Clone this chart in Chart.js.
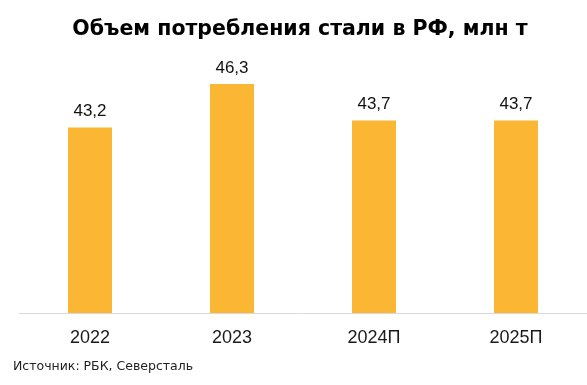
<!DOCTYPE html>
<html>
<head>
<meta charset="utf-8">
<script src="https://cdn.jsdelivr.net/npm/chart.js@4"></script>
<style>
    html, body { margin: 0; padding: 0; background: #fff; }
    #wrap { width: 587px; height: 385px; }
</style>
</head>
<body>
<div id="wrap"><canvas id="steelChart" width="587" height="385"></canvas></div>
<script>
const years = ["2022", "2023", "2024П", "2025П"];
const consumption = [43.2, 46.3, 43.7, 43.7];
const yMin = 30;
const yMax = 48;

const titleText = "Объем потребления стали в РФ, млн т";
const sourceText = "Источник: РБК, Северсталь";

function formatValue(v) {
    return v.toFixed(1).replace(".", ",");
}

// подписи значений над столбцами
const valueLabels = {
    id: "valueLabels",
    afterDatasetsDraw(chart) {
        const ctx = chart.ctx;
        const meta = chart.getDatasetMeta(0);
        ctx.save();
        ctx.font = "17px 'Liberation Sans', Arial, sans-serif";
        ctx.fillStyle = "#111";
        ctx.textAlign = "center";
        ctx.textBaseline = "alphabetic";
        meta.data.forEach((bar, i) => {
            ctx.fillText(formatValue(consumption[i]), bar.x, bar.y - 11);
        });
        ctx.restore();
    }
};

new Chart(document.getElementById("steelChart"), {
    type: "bar",
    data: {
        labels: years,
        datasets: [{
            data: consumption,
            backgroundColor: "#FBB634",
            borderWidth: 0,
            barPercentage: 0.62,
            categoryPercentage: 0.5
        }]
    },
    options: {
        responsive: false,
        animation: false,
        layout: { padding: { left: 13, right: 0, top: 0, bottom: 0 } },
        plugins: {
            legend: { display: false },
            tooltip: { enabled: false },
            title: {
                display: true,
                text: titleText,
                color: "#000",
                font: { family: "'DejaVu Sans', sans-serif", size: 20.5, weight: "bold" },
                padding: { top: 17, bottom: 18.4 }
            },
            subtitle: {
                display: true,
                text: sourceText,
                position: "bottom",
                align: "start",
                color: "#222",
                font: { family: "'DejaVu Sans', sans-serif", size: 12.5 },
                padding: { top: 0, bottom: 11 }
            }
        },
        scales: {
            x: {
                grid: { display: false, drawTicks: false },
                border: { display: true, color: "#D9D9D9", width: 1 },
                ticks: {
                    color: "#1a1a1a",
                    padding: 14,
                    font: { family: "'Liberation Sans', Arial, sans-serif", size: 18 }
                },
                afterFit: s => { s.height = 46; }
            },
            y: {
                min: yMin,
                max: yMax,
                grid: { display: false, drawTicks: false },
                border: { display: false },
                ticks: { display: false },
                afterFit: s => { s.width = 6; }
            }
        }
    },
    plugins: [valueLabels]
});
</script>
</body>
</html>
